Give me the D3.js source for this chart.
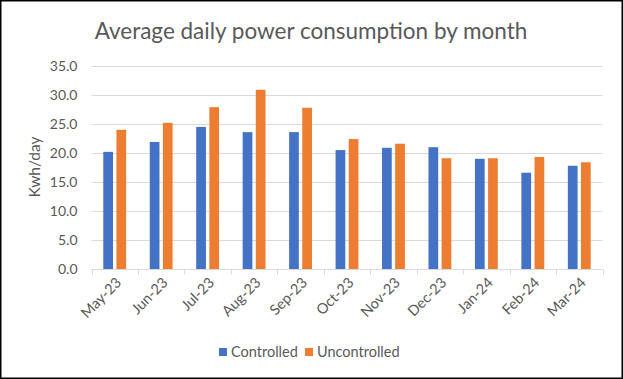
<!DOCTYPE html>
<html><head><meta charset="utf-8">
<script src="https://cdn.jsdelivr.net/npm/d3@7"></script>
<style>body{margin:0;background:#fff}svg{display:block}</style>
</head><body>
<script>
const months = ["May-23","Jun-23","Jul-23","Aug-23","Sep-23","Oct-23","Nov-23","Dec-23","Jan-24","Feb-24","Mar-24"];
const controlled = [20.2,21.9,24.5,23.6,23.6,20.5,20.9,21.0,19.0,16.6,17.8];
const uncontrolled = [24.0,25.2,27.9,30.9,27.8,22.4,21.6,19.1,19.1,19.3,18.4];
const seriesNames = ["Controlled","Uncontrolled"];
const colors = ["#4472C4","#ED7D31"];
const yTicks = [0,5,10,15,20,25,30,35];

const W=623,H=379;
const svg=d3.select("body").append("svg").attr("width",W).attr("height",H);
const font="Lato, 'Open Sans', sans-serif";
svg.append("rect").attr("x",0.75).attr("y",0.75).attr("width",W-1.5).attr("height",H-1.5)
  .attr("fill","#fff").attr("stroke","#000").attr("stroke-width",1.5);

const x=d3.scaleBand().domain(months).range([91.5,602.5]).paddingInner(0).paddingOuter(0);
const y=d3.scaleLinear().domain([0,35]).range([269,66]);
const inner=d3.scaleBand().domain(seriesNames).range([11.8,x.bandwidth()-11.8]).paddingInner(0.26);

// grid
svg.append("g").selectAll("line").data(yTicks.filter(d=>d>0)).join("line")
  .attr("x1",91.5).attr("x2",602.5).attr("y1",d=>Math.round(y(d))+0.5).attr("y2",d=>Math.round(y(d))+0.5)
  .attr("stroke","#d9d9d9").attr("stroke-width",1);

// y labels
svg.append("g").selectAll("text").data(yTicks).join("text")
  .attr("x",77.5).attr("y",d=>y(d)).attr("dy","0.35em").attr("text-anchor","end")
  .attr("font-family",font).attr("font-size",14).attr("fill","#595959")
  .text(d=>d.toFixed(1));

// bars
const data=months.map((m,i)=>({m,vals:[controlled[i],uncontrolled[i]]}));
const g=svg.append("g");
data.forEach(d=>{
  d.vals.forEach((v,j)=>{
    g.append("rect").attr("x",x(d.m)+inner(seriesNames[j])).attr("width",inner.bandwidth())
     .attr("y",y(v)).attr("height",y(0)-y(v)).attr("fill",colors[j]);
  });
});

// x axis
const axY=Math.round(y(0))+0.5;
svg.append("line").attr("x1",91.5).attr("x2",602.5).attr("y1",axY).attr("y2",axY).attr("stroke","#d9d9d9");
const bounds=months.map(m=>x(m)).concat([x.range()[1]]);
svg.append("g").selectAll("line").data(bounds).join("line")
  .attr("x1",d=>Math.round(d)+0.5).attr("x2",d=>Math.round(d)+0.5).attr("y1",axY).attr("y2",axY+5).attr("stroke","#d9d9d9");

svg.append("g").selectAll("text").data(months).join("text")
  .attr("transform",d=>`translate(${x(d)+x.bandwidth()/2+4},${280}) rotate(-45)`)
  .attr("text-anchor","end").attr("dy","0.35em")
  .attr("font-family",font).attr("font-size",14.5).attr("fill","#595959").text(d=>d);

// y title
svg.append("text").attr("transform","translate(35,167) rotate(-90)").attr("text-anchor","middle")
  .attr("dy","0.35em").attr("font-family",font).attr("font-size",15.5).attr("fill","#595959").text("Kwh/day");

// title
svg.append("text").attr("x",311).attr("y",31).attr("text-anchor","middle").attr("dy","0.35em")
  .attr("font-family",font).attr("font-size",22.5).attr("fill","#595959").text("Average daily power consumption by month");

// legend
const leg=[{x:219,tx:231},{x:305,tx:317}];
seriesNames.forEach((s,i)=>{
  svg.append("rect").attr("x",leg[i].x).attr("y",348).attr("width",8).attr("height",8).attr("fill",colors[i]);
  svg.append("text").attr("x",leg[i].tx).attr("y",352).attr("dy","0.35em")
    .attr("font-family",font).attr("font-size",14.5).attr("fill","#595959").text(s);
});
</script>
</body></html>
